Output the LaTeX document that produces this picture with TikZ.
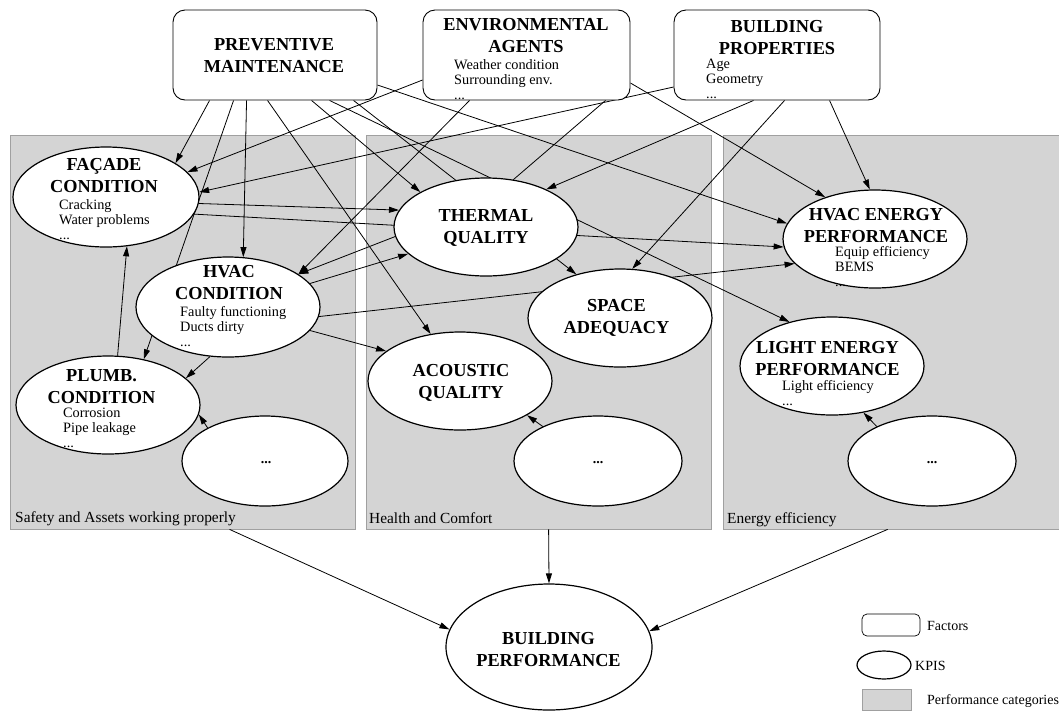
\documentclass[tikz,border=0pt]{standalone}
\usepackage{fontspec}
\setmainfont{Liberation Serif}
\usetikzlibrary{shapes.geometric,arrows.meta,calc}

\pgfdeclarelayer{panels}
\pgfdeclarelayer{links}
\pgfsetlayers{panels,links,main}

\definecolor{panelfill}{RGB}{212,212,212}
\definecolor{panelline}{RGB}{160,160,160}

\tikzset{
  factor/.style 2 args={draw=black, line width=0.9pt, rounded corners=12pt, fill=white,
    inner sep=0pt, minimum width=#1, minimum height=#2},
  kpi/.style 2 args={ellipse, draw=black, line width=1.2pt, fill=white, inner sep=0pt,
    minimum width=#1, minimum height=#2},
  panel/.style 2 args={draw=panelline, fill=panelfill, line width=0.8pt, inner sep=0pt,
    minimum width=#1, minimum height=#2},
  link/.style={line width=0.8pt, -{Triangle[length=10pt,width=6pt]}},
  plainlink/.style={line width=0.8pt},
  title/.style={font=\fontsize{18.3}{22}\selectfont\bfseries, align=center, inner sep=0pt},
  items/.style={font=\fontsize{14.3}{15}\selectfont, align=left, anchor=north west, inner sep=0pt},
  caption/.style={font=\fontsize{15.4}{18}\selectfont, anchor=base west, inner sep=0pt},
  legendtext/.style={font=\fontsize{14}{16}\selectfont, anchor=base west, inner sep=0pt},
  more/.style={font=\fontsize{14}{16}\selectfont\bfseries, inner sep=0pt}
}

\begin{document}
\begin{tikzpicture}[x=1pt,y=-1pt]
\useasboundingbox (0,0) rectangle (1059,713);

% performance categories
\begin{pgfonlayer}{panels}
  \node[panel={345pt}{394pt}] (p1) at (182.5,332) {};
  \node[panel={345pt}{394pt}] (p2) at (538.5,332) {};
  \node[panel={340pt}{394pt}] (p3) at (893,332) {};
\end{pgfonlayer}
\node[caption] (p1-c) at (15,522) {Safety and Assets working properly};
\node[caption] (p2-c) at (369,523) {Health and Comfort};
\node[caption] (p3-c) at (727,523) {Energy efficiency};

% factors
\node[factor={204pt}{90pt}] (pm) at (275,55) {};
\node[title] (pm-t) at (274,55.5) {PREVENTIVE\\MAINTENANCE};

\node[factor={207pt}{90pt}] (ea) at (526.5,55) {};
\node[title] (ea-t) at (526,36) {ENVIRONMENTAL\\AGENTS};
\node[items] (ea-l) at (454,59) {Weather condition\\Surrounding env.\\...};

\node[factor={206pt}{90pt}] (bp) at (777,55) {};
\node[title] (bp-t) at (777,37.5) {BUILDING\\PROPERTIES};
\node[items] (bp-l) at (706,59) {Age\\Geometry\\...};

% KPIs
\node[kpi={186pt}{100pt}] (fac) at (106,197) {};
\node[title] (fac-t) at (104,176) {FAÇADE\\CONDITION};
\node[items] (fac-l) at (59,199.5) {Cracking\\Water problems\\...};

\node[kpi={184pt}{100pt}] (hvac) at (228,307) {};
\node[title] (hvac-t) at (229,283) {HVAC\\CONDITION};
\node[items] (hvac-l) at (180,306.5) {Faulty functioning\\Ducts dirty\\...};

\node[kpi={184pt}{98pt}] (plumb) at (108,405) {};
\node[title] (plumb-t) at (101.5,386.5) {PLUMB.\\CONDITION};
\node[items] (plumb-l) at (63,407.5) {Corrosion\\Pipe leakage\\...};

\node[kpi={166pt}{90pt}] (dA) at (265,461) {};
\node[more] (dA-t) at (266,463) {...};

\node[kpi={184pt}{98pt}] (therm) at (486,227) {};
\node[title] (therm-t) at (486,228) {THERMAL\\QUALITY};

\node[kpi={184pt}{98pt}] (space) at (620,318) {};
\node[title] (space-t) at (616.5,318) {SPACE\\ADEQUACY};

\node[kpi={184pt}{98pt}] (acou) at (460,381) {};
\node[title] (acou-t) at (461,382.5) {ACOUSTIC\\QUALITY};

\node[kpi={168pt}{90pt}] (dB) at (598,461) {};
\node[more] (dB-t) at (598,463) {...};

\node[kpi={184pt}{98pt}] (hven) at (875,239) {};
\node[title] (hven-t) at (876,226) {HVAC ENERGY\\PERFORMANCE};
\node[items] (hven-l) at (835,246) {Equip efficiency\\BEMS\\...};

\node[kpi={184pt}{98pt}] (lien) at (832,366) {};
\node[title] (lien-t) at (827.5,358.5) {LIGHT ENERGY\\PERFORMANCE};
\node[items] (lien-l) at (782,380.5) {Light efficiency\\...};

\node[kpi={168pt}{90pt}] (dC) at (932,461) {};
\node[more] (dC-t) at (932,463) {...};

\node[kpi={206pt}{126pt}] (bperf) at (549,647) {};
\node[title] (bperf-t) at (548.5,650) {BUILDING\\PERFORMANCE};

% legend
\node[draw=black, line width=0.7pt, rounded corners=5pt, fill=white, minimum width=58pt,
      minimum height=22pt, inner sep=0pt] (lg-f) at (891,625) {};
\node[legendtext] (lg-ft) at (927,630) {Factors};
\node[kpi={54pt}{28pt}] (lg-k) at (884,665) {};
\node[legendtext] (lg-kt) at (915,670) {KPIS};
\node[panel={49pt}{21pt}] (lg-p) at (886.5,699.5) {};
\node[legendtext] (lg-pt) at (927,704) {Performance categories};

% influences
\begin{pgfonlayer}{links}
  % preventive maintenance
  \draw[link] ([xshift=37pt]pm.south west) -- (fac.26);
  \draw[link] ([xshift=61pt]pm.south west) -- (plumb.52);
  \draw[link] ([xshift=74pt]pm.south west) -- (hvac.73);
  \draw[link] ([xshift=95pt]pm.south west) -- (acou.122);
  \draw[link] ([xshift=139pt]pm.south west) -- (therm.152);
  \draw[link] ([xshift=157pt]pm.south west) -- (lien.134);
  \draw[link] ([xshift=181pt]pm.south west) -- (space.135);
  \draw[link] ([yshift=-30pt]pm.east) -- (hven.170);
  % environmental agents
  \draw[link] ([yshift=-25pt]ea.west) -- (fac.17);
  \draw[link] ([xshift=47pt]ea.south west) -- (hvac.25);
  \draw[plainlink] ([xshift=183pt]ea.south west) -- (therm.60);
  \draw[link] ([yshift=-28pt]ea.east) -- (hven.140);
  % building properties
  \draw[link] ([yshift=-32pt]bp.west) -- (fac.3);
  \draw[link] ([xshift=80pt]bp.south west) -- (therm.32);
  \draw[link] ([xshift=111pt]bp.south west) -- (space.76);
  \draw[link] ([xshift=156pt]bp.south west) -- (hven.96);
  % between KPIs
  \draw[link] (fac.-4) -- (therm.169);
  \draw[link] (fac.-11) -- (hven.185);
  \draw[link] (hvac.16) -- (therm.199);
  \draw[link] (therm.186) -- (hvac.25);
  \draw[link] (hvac.-16) -- (acou.158);
  \draw[link] (hvac.-110) -- (plumb.19);
  \draw[link] (hvac.-6) -- (hven.197);
  \draw[link] (plumb.79) -- (fac.-67);
  \draw[link] (dA.150) -- (plumb.-6);
  \draw[link] (dB.148) -- (acou.-27);
  \draw[link] (dC.148) -- (lien.-56);
  % categories into overall performance
  \draw[link] ([xshift=220pt]p1.south west) -- (bperf.170);
  \draw[link] ([xshift=183pt]p2.south west) -- (bperf.north);
  \draw[link] ([xshift=165pt]p3.south west) -- (bperf.9);
\end{pgfonlayer}
\end{tikzpicture}
\end{document}
